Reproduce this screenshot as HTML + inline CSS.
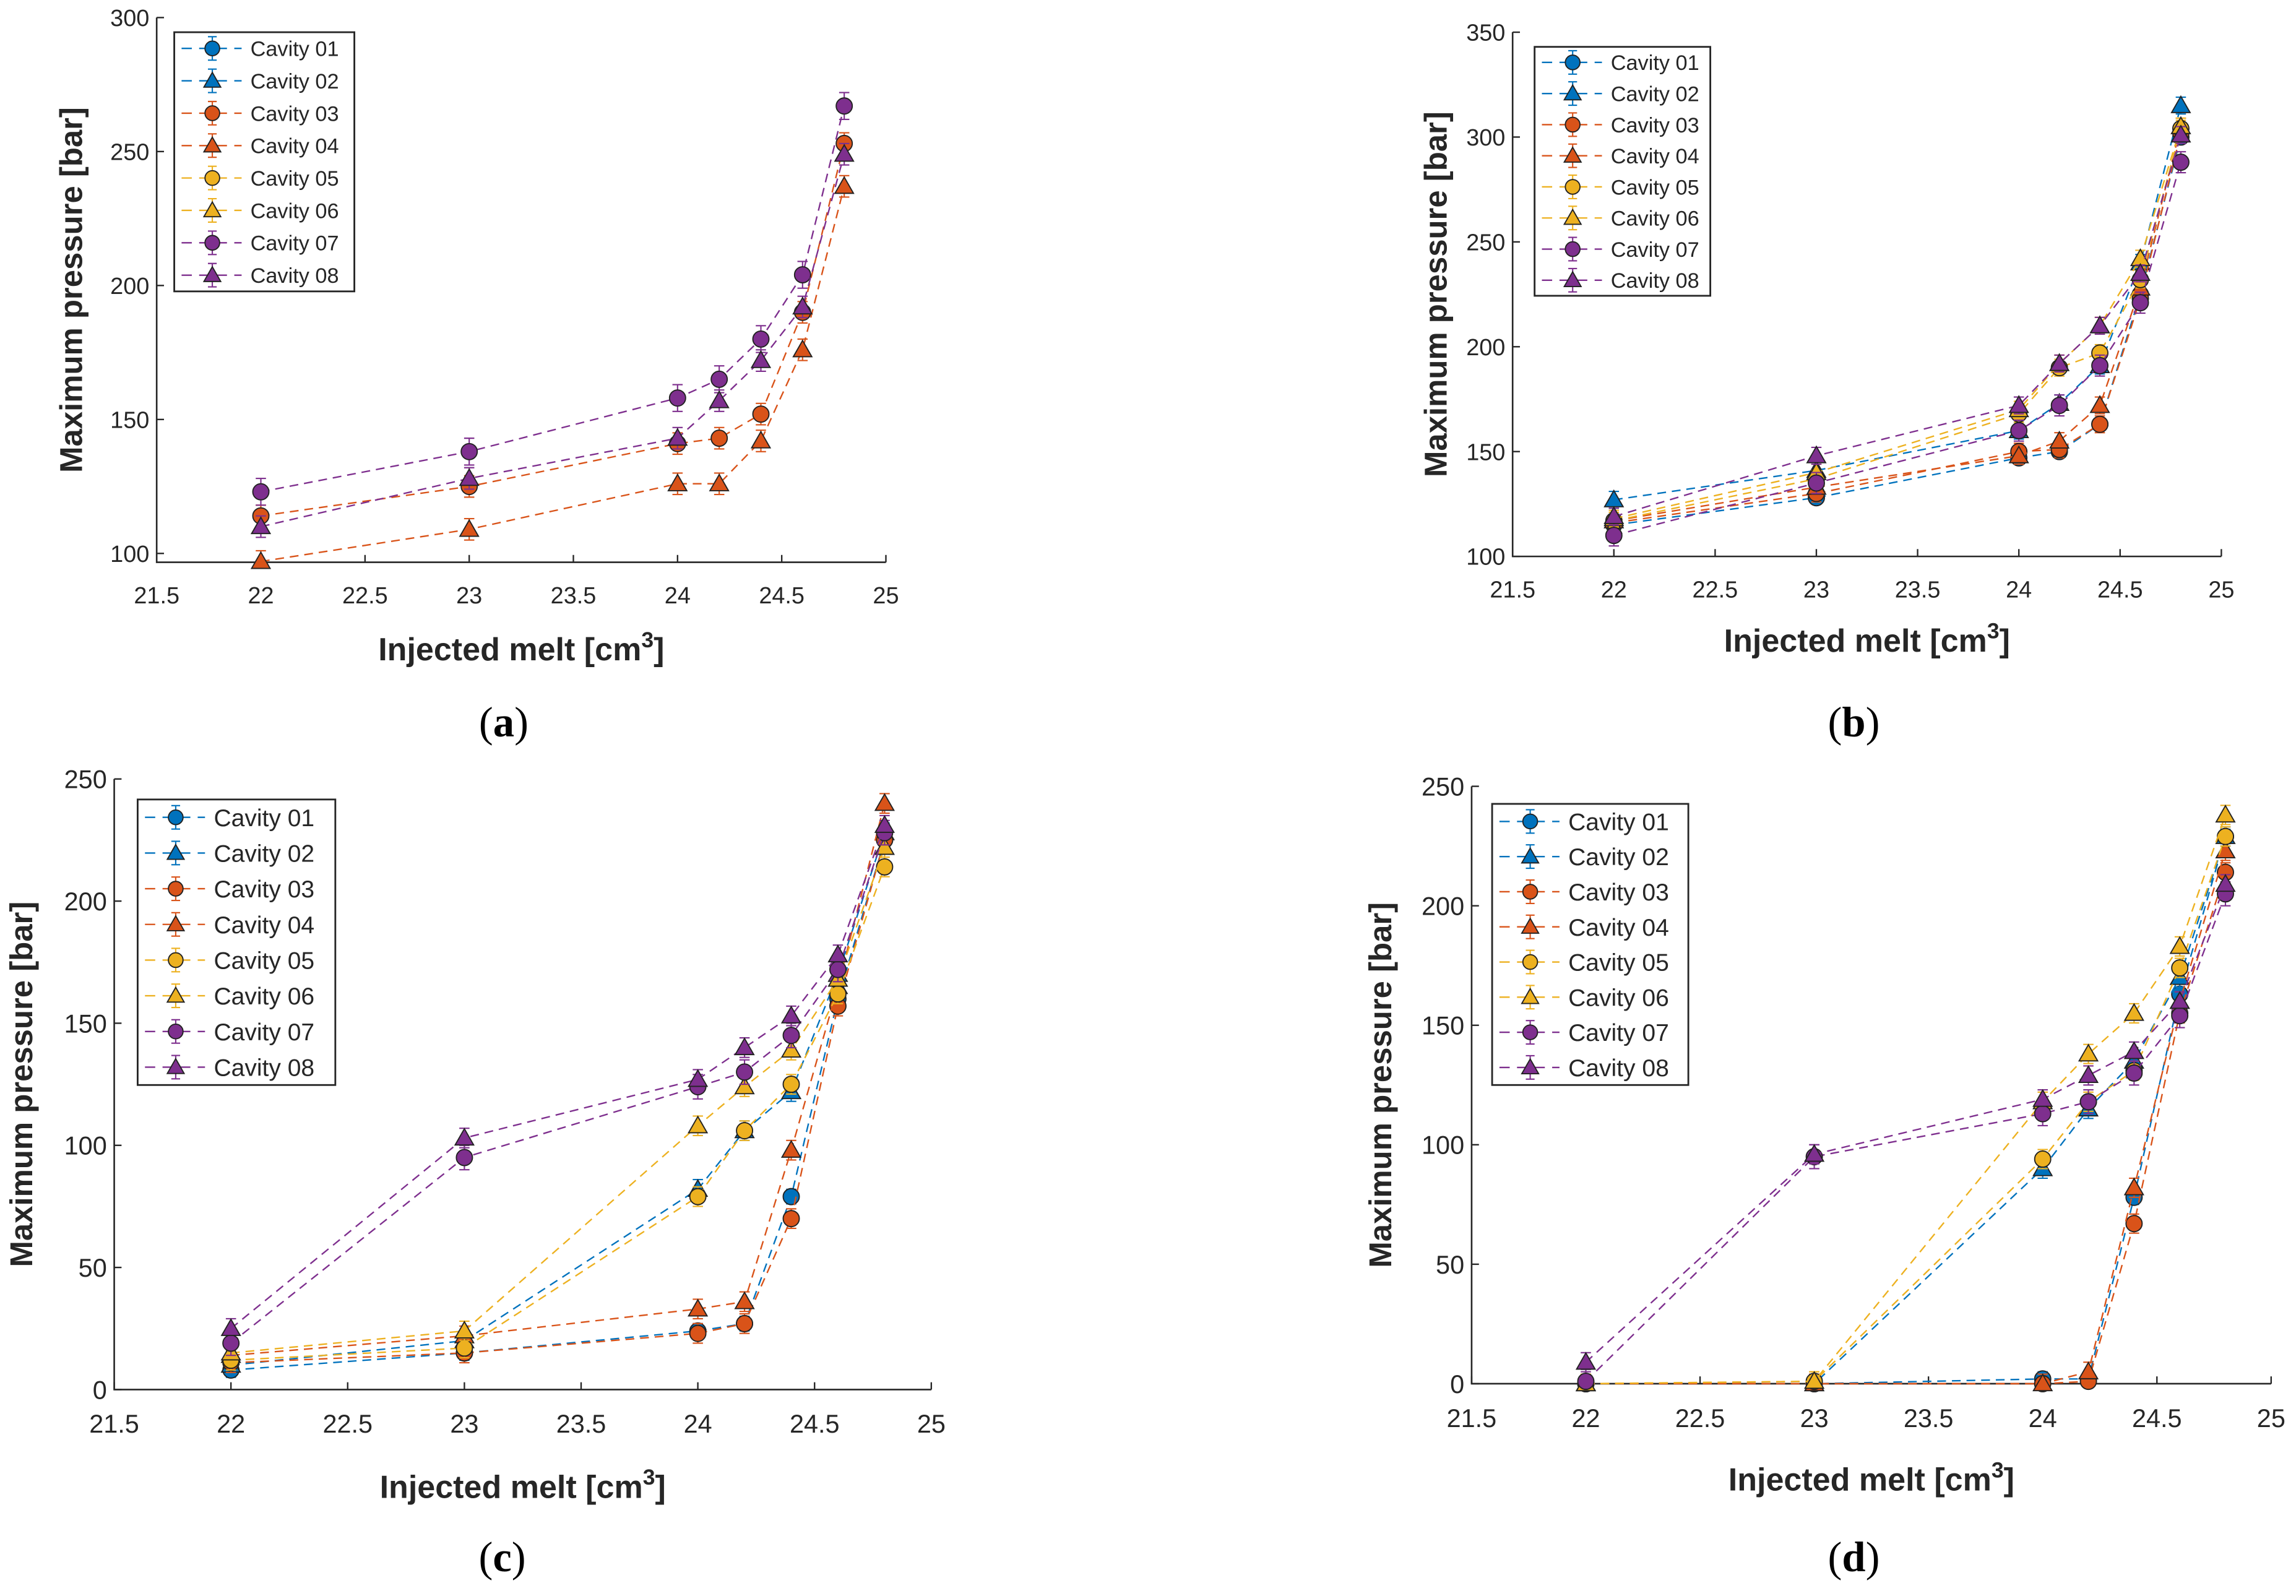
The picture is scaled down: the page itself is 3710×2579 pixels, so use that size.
<!DOCTYPE html>
<html><head><meta charset="utf-8"><style>
html,body{margin:0;padding:0;background:#fff}
svg{display:block}
text{font-family:"Liberation Sans",sans-serif;fill:#262626}
</style></head><body>
<svg id="fig" width="3710" height="2579" viewBox="0 0 3710 2579" xmlns="http://www.w3.org/2000/svg">
<g id="root" transform="scale(2.3661)"></g>
</svg>
<script>
const xVals = [22, 23, 24, 24.2, 24.4, 24.6, 24.8];
const xTicks = [21.5, 22, 22.5, 23, 23.5, 24, 24.5, 25];
const seriesNames = ["Cavity 01","Cavity 02","Cavity 03","Cavity 04","Cavity 05","Cavity 06","Cavity 07","Cavity 08"];
const aVals = [null, null,
 [114,125,141,143,152,190,253],
 [97,109,126,126,142,176,237],
 null, null,
 [123,138,158,165,180,204,267],
 [110,128,143,157,172,192,249]];
const bVals = [
 [115,128,147,150,163,225,300],
 [127,141,160,173,191,240,315],
 [116,130,150,151,163,223,302],
 [117,133,148,155,172,228,305],
 [117,137,168,190,197,232,304],
 [118,140,170,192,210,242,305],
 [110,135,160,172,191,221,288],
 [119,148,172,192,210,235,301]];
const cVals = [
 [8,15,24,27,79,160,225],
 [10,20,82,106,122,170,228],
 [11,15,23,27,70,157,225],
 [14,22,33,36,98,165,240],
 [12,17,79,106,125,162,214],
 [15,24,108,124,139,168,222],
 [19,95,124,130,145,172,228],
 [25,103,127,140,153,178,231]];
const dVals = [
 [0,0,2,2,78,163,229],
 [0,0,90,115,135,170,229],
 [0,0,0,1,67,155,214],
 [0,0,0,5,82,160,223],
 [0,1,94,118,131,174,229],
 [0,1,118,138,155,183,238],
 [1,95,113,118,130,154,205],
 [9,96,119,129,139,160,209]];
const errVals = [3, 4, 4, 4, 4, 4, 5, 4];
const aYTicks = [100,150,200,250,300];
const bYTicks = [100,150,200,250,300,350];
const cdYTicks = [0,50,100,150,200,250];

const colors = ["#0072BD","#0072BD","#D95319","#D95319","#EDB120","#EDB120","#7E2F8E","#7E2F8E"];
const NS = "http://www.w3.org/2000/svg";
const root = document.getElementById('root');
function mk(tag, attrs, parent){const e=document.createElementNS(NS,tag);for(const k in attrs)e.setAttribute(k,attrs[k]);(parent||root).appendChild(e);return e;}

const panels = [
 {id:'a', vals:aVals, yTicks:aYTicks, x0:107,x1:605, yTop:12, yBot:384, yMin:96.7, yMax:300, leg:[119,22,123,177], fs:16, lfs:14.5, ylx:48, xly:443, lab:[344,493]},
 {id:'b', vals:bVals, yTicks:bYTicks, x0:1033,x1:1517, yTop:22, yBot:380, yMin:100, yMax:350, leg:[1048,32,120,170], fs:16, lfs:14.5, ylx:980, xly:437, lab:[1266,493]},
 {id:'c', vals:cVals, yTicks:cdYTicks, x0:78,x1:636, yTop:532, yBot:949, yMin:0, yMax:250, leg:[94,546,135,195], fs:17.5, lfs:16.5, ylx:14, xly:1015, lab:[343,1063]},
 {id:'d', vals:dVals, yTicks:cdYTicks, x0:1005,x1:1551, yTop:537, yBot:945, yMin:0, yMax:250, leg:[1019,549,134,192], fs:17.5, lfs:16.5, ylx:942, xly:1010, lab:[1266,1063]}
];

function marker(g, i, cx, cy, r){
  if(i%2===0){
    const m=mk('circle',{cx:cx,cy:cy,r:r,fill:colors[i],stroke:'#222','stroke-width':0.8},g);
    
    
  } else {
    const s=r*1.15;
    const m=mk('polygon',{points:`${cx},${cy-s} ${cx+s},${cy+s*0.75} ${cx-s},${cy+s*0.75}`,fill:colors[i],stroke:'#222','stroke-width':0.8},g);
    
    
  }
}

panels.forEach(p=>{
  const g=mk('g',{});
  
  
  const xs=v=>p.x0+(v-21.5)/(25-21.5)*(p.x1-p.x0);
  const ys=v=>p.yBot-(v-p.yMin)/(p.yMax-p.yMin)*(p.yBot-p.yTop);
  const ax=mk('path',{d:`M${p.x0},${p.yTop}V${p.yBot}H${p.x1}`,fill:'none',stroke:'#262626','stroke-width':1.1},g);
  
  
  xTicks.forEach(t=>{
    const x=xs(t);
    const tk=mk('line',{x1:x,x2:x,y1:p.yBot,y2:p.yBot-5,stroke:'#262626','stroke-width':1},g);
    
    
    const tl=mk('text',{x:x,y:p.yBot+p.fs+12,'font-size':p.fs,'text-anchor':'middle'},g);
    tl.textContent=t;
    
    
  });
  p.yTicks.forEach(t=>{
    const y=ys(t);
    const tk=mk('line',{x1:p.x0,x2:p.x0+5,y1:y,y2:y,stroke:'#262626','stroke-width':1},g);
    
    
    const tl=mk('text',{x:p.x0-5,y:y+p.fs*0.36,'font-size':p.fs,'text-anchor':'end'},g);
    tl.textContent=t;
    
    
  });
  p.vals.forEach((vals,i)=>{
    if(!vals) return;
    const sg=mk('g',{},g);
    
    
    const d=vals.map((v,k)=>(k?'L':'M')+xs(xVals[k]).toFixed(2)+','+ys(v).toFixed(2)).join('');
    const ln=mk('path',{d:d,fill:'none',stroke:colors[i],'stroke-width':1,'stroke-dasharray':'6,4'},sg);
    
    
    vals.forEach((v,k)=>{
      const x=xs(xVals[k]);
      const e=errVals[i];
      const y1=ys(v+e), y2=ys(Math.max(p.yMin,v-e));
      const eb=mk('path',{d:`M${x},${y1}V${y2}M${x-3.5},${y1}H${x+3.5}M${x-3.5},${y2}H${x+3.5}`,stroke:colors[i],'stroke-width':0.9,fill:'none'},sg);
      
      
    });
    vals.forEach((v,k)=>marker(sg,i,xs(xVals[k]),ys(v),5.5));
  });
  const [lx,ly,lw,lh]=p.leg;
  const lg=mk('g',{},g);
  
  
  const lb=mk('rect',{x:lx,y:ly,width:lw,height:lh,fill:'#fff',stroke:'#262626','stroke-width':1.2},lg);
  
  
  const step=lh/8;
  seriesNames.forEach((n,i)=>{
    const cy=ly+step*(i+0.5);
    const eg=mk('g',{},lg);
    
    
    mk('line',{x1:lx+5,x2:lx+46,y1:cy,y2:cy,stroke:colors[i],'stroke-width':1,'stroke-dasharray':'7,5'},eg);
    mk('path',{d:`M${lx+26},${cy-8}V${cy+8}M${lx+23},${cy-8}H${lx+29}M${lx+23},${cy+8}H${lx+29}`,stroke:colors[i],'stroke-width':0.9},eg);
    marker(eg,i,lx+26,cy,5);
    const t=mk('text',{x:lx+52,y:cy+p.lfs*0.36,'font-size':p.lfs},eg);
    t.textContent=n;
  });
  const yl=mk('text',{x:0,y:0,'font-size':21.5,'font-weight':'bold','text-anchor':'middle',transform:`translate(${p.ylx+8},${(p.yTop+p.yBot)/2}) rotate(-90)`},g);
  yl.textContent='Maximum pressure [bar]';
  
  
  const xl=mk('text',{x:(p.x0+p.x1)/2,y:p.xly+8,'font-size':22,'font-weight':'bold','text-anchor':'middle'},g);
  xl.innerHTML='Injected melt [cm<tspan dy="-9" font-size="15">3</tspan><tspan dy="9">]</tspan>';
  
  
  const pl=mk('text',{x:p.lab[0],y:p.lab[1]+10,'font-size':29,'text-anchor':'middle',style:'font-family:"Liberation Serif",serif;fill:#000'},g);
  pl.innerHTML='(<tspan font-weight="bold">'+p.id+'</tspan>)';
  
  
});
</script>
</body></html>
